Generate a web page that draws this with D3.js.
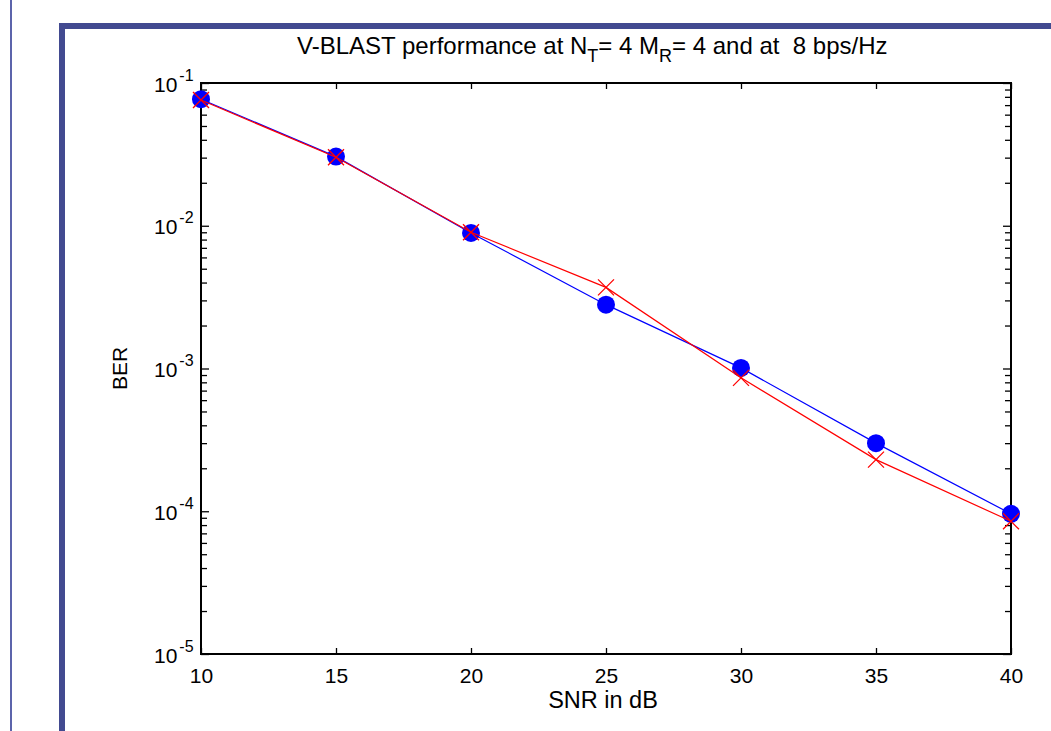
<!DOCTYPE html>
<html>
<head>
<meta charset="utf-8">
<script src="https://cdn.jsdelivr.net/npm/d3@7"></script>
<style>
  html, body { margin: 0; padding: 0; background: #fff; }
  svg { display: block; }
  text { font-family: "Liberation Sans", Arial, sans-serif; fill: #000; }
</style>
</head>
<body>
<svg id="chart" width="1051" height="731"></svg>
<script>
// ---- data ----
const snrValues = [10, 15, 20, 25, 30, 35, 40];
const berBlue   = [0.077, 0.0305, 0.0089, 0.0028, 0.00101, 0.00030, 0.000096];
const berRed    = [0.076, 0.0302, 0.0090, 0.0037, 0.00086, 0.00023, 0.000085];
const xTicks    = [10, 15, 20, 25, 30, 35, 40];
const yExponents = [-5, -4, -3, -2, -1];
const titleParts = [
  { t: "V-BLAST performance at N", sub: false },
  { t: "T", sub: true },
  { t: "= 4 M", sub: false },
  { t: "R", sub: true },
  { t: "= 4 and at \u00a08 bps/Hz", sub: false }
];
const xLabel = "SNR in dB";
const yLabel = "BER";

// ---- layout ----
const svg = d3.select("#chart");
const L = 201, R = 1011, T = 83, B = 654;

// slide frame
svg.append("rect").attr("x", 10).attr("y", 0).attr("width", 2).attr("height", 731).attr("fill", "#5c64ab");
svg.append("rect").attr("x", 59).attr("y", 23).attr("width", 1051 - 59).attr("height", 6).attr("fill", "#424a90");
svg.append("rect").attr("x", 59).attr("y", 23).attr("width", 6).attr("height", 731 - 23).attr("fill", "#424a90");

const x = d3.scaleLinear().domain([10, 40]).range([L, R]);
const y = d3.scaleLog().domain([1e-5, 1e-1]).range([B, T]);

const majors = yExponents.map(e => Math.pow(10, e));
const minors = [];
for (let e = -5; e < -1; e++) for (let m = 2; m <= 9; m++) minors.push(m * Math.pow(10, e));

// bottom axis
const gB = svg.append("g").attr("transform", `translate(0,${B})`)
  .call(d3.axisBottom(x).tickValues(xTicks).tickFormat(d3.format("d")).tickSizeInner(-6).tickSizeOuter(0).tickPadding(14));
gB.selectAll("text").attr("font-size", 21).attr("font-family", "Liberation Sans, Arial, sans-serif");
// top axis
svg.append("g").attr("transform", `translate(0,${T})`)
  .call(d3.axisTop(x).tickValues(xTicks).tickFormat("").tickSizeInner(-6).tickSizeOuter(0));
// left axis
const gL = svg.append("g").attr("transform", `translate(${L},0)`)
  .call(d3.axisLeft(y).tickValues(majors).tickFormat("").tickSizeInner(-8).tickSizeOuter(0));
svg.append("g").attr("transform", `translate(${L},0)`)
  .call(d3.axisLeft(y).tickValues(minors).tickFormat("").tickSizeInner(-6).tickSizeOuter(0));
// right axis
svg.append("g").attr("transform", `translate(${R},0)`)
  .call(d3.axisRight(y).tickValues(majors).tickFormat("").tickSizeInner(-8).tickSizeOuter(0));
svg.append("g").attr("transform", `translate(${R},0)`)
  .call(d3.axisRight(y).tickValues(minors).tickFormat("").tickSizeInner(-6).tickSizeOuter(0));

svg.selectAll(".tick line").attr("stroke", "#000").attr("stroke-width", 1.3);
svg.selectAll(".domain").attr("stroke", "none");

// y tick labels 10^e
gL.selectAll(".tick").each(function(d) {
  const e = Math.round(Math.log10(d));
  const t = d3.select(this).append("text")
    .attr("x", 154 - L).attr("y", 8).attr("text-anchor", "start")
    .attr("font-size", 21);
  t.append("tspan").text("10");
  t.append("tspan").attr("dx", 2).attr("dy", -11).attr("font-size", 16).text(String(e));
});

// box
svg.append("rect").attr("x", L).attr("y", T).attr("width", R - L).attr("height", B - T)
  .attr("fill", "none").attr("stroke", "#000").attr("stroke-width", 2);

// lines and markers
const line = (vals) => d3.line().x((d, i) => x(snrValues[i])).y(d => y(d))(vals);
svg.append("path").attr("d", line(berBlue)).attr("fill", "none").attr("stroke", "#0000ff").attr("stroke-width", 1.2);
svg.selectAll(".dotB").data(berBlue).enter().append("circle")
  .attr("cx", (d, i) => x(snrValues[i])).attr("cy", d => y(d)).attr("r", 9).attr("fill", "#0000ff");
svg.append("path").attr("d", line(berRed)).attr("fill", "none").attr("stroke", "#ff0000").attr("stroke-width", 1.2);
const s = 8;
svg.selectAll(".xR").data(berRed).enter().append("path")
  .attr("d", (d, i) => {
    const cx = x(snrValues[i]), cy = y(d);
    return `M${cx - s},${cy - s}L${cx + s},${cy + s}M${cx - s},${cy + s}L${cx + s},${cy - s}`;
  })
  .attr("stroke", "#ff0000").attr("stroke-width", 1.3).attr("fill", "none");

// title
const title = svg.append("text").attr("x", 297).attr("y", 54).attr("font-size", 24);
titleParts.forEach((p, i) => {
  const ts = title.append("tspan").text(p.t);
  if (p.sub) ts.attr("font-size", 18).attr("dy", 8);
  else if (i > 0 && titleParts[i - 1].sub) ts.attr("dy", -8);
});
// axis labels
svg.append("text").attr("x", 603).attr("y", 708).attr("text-anchor", "middle").attr("font-size", 23.5).text(xLabel);
svg.append("text").attr("transform", `translate(127,${(T + B) / 2}) rotate(-90)`).attr("text-anchor", "middle").attr("font-size", 21).text(yLabel);
</script>
</body>
</html>
